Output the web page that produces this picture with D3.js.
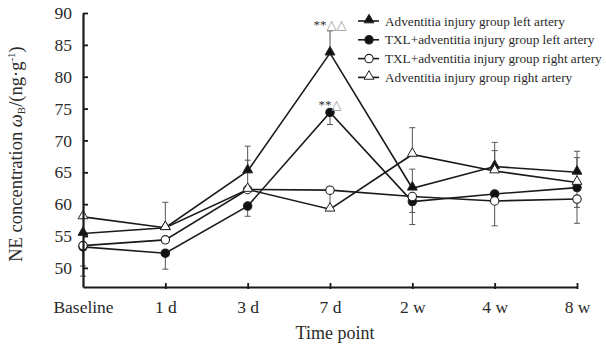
<!DOCTYPE html>
<html>
<head>
<meta charset="utf-8">
<script src="https://cdn.jsdelivr.net/npm/d3@7"></script>
<style>
  body { margin: 0; background: #fff; }
  svg text { font-family: "Liberation Serif", "DejaVu Serif", serif; fill: #2a2a2a; }
</style>
</head>
<body>
<svg id="chart" width="606" height="345"></svg>
<script>
// time points on the x axis
const timePoints = ["Baseline", "1 d", "3 d", "7 d", "2 w", "4 w", "8 w"];
const yTicks = [50, 55, 60, 65, 70, 75, 80, 85, 90];

// NE concentration, ng/g
const advLeft  = [55.4, 56.3, 65.2, 83.7, 62.5, 65.9, 65.0];
const txlLeft  = [53.3, 52.3, 59.7, 74.4, 60.4, 61.6, 62.6];
const txlRight = [53.5, 54.4, 62.3, 62.2, 61.2, 60.5, 60.8];
const advRight = [58.0, 56.3, 62.3, 59.2, 67.8, 65.2, 63.4];

// error bars (SD), drawn one side only
const advLeftErr  = [null, null, 3.9, 3.5, 3.0, 3.8, 3.3];   // up
const advRightErr = [null, 4.0, 4.6, 3.1, 4.2, 3.2, 3.9];    // up
const txlLeftErr  = [3.0, 2.5, 1.6, 1.9, 1.7, null, 3.1];    // down
const txlRightErr = [4.8, null, null, null, 4.4, 3.9, 3.8];  // down

const seriesNames = [
  "Adventitia injury group left artery",
  "TXL+adventitia injury group left artery",
  "TXL+adventitia injury group right artery",
  "Adventitia injury group right artery"
];

const series = [
  {name: seriesNames[0], values: advLeft,  err: advLeftErr,  dir: 1,  shape: "tri",    fill: "#111"},
  {name: seriesNames[1], values: txlLeft,  err: txlLeftErr,  dir: -1, shape: "circle", fill: "#111"},
  {name: seriesNames[2], values: txlRight, err: txlRightErr, dir: -1, shape: "circle", fill: "#fff"},
  {name: seriesNames[3], values: advRight, err: advRightErr, dir: 1,  shape: "tri",    fill: "#fff"}
];

var svg = d3.select("#chart");

var x = d3.scalePoint()
  .domain(timePoints)
  .range([83, 577])
  .padding(0);

var y = d3.scaleLinear()
  .domain([47, 90])
  .range([287, 13]);

// error bars first so markers sit on top
series.forEach(function(s) {
  var g = svg.append("g").attr("stroke", "#555").attr("stroke-width", 1);
  s.values.forEach(function(v, i) {
    if (s.err[i] == null) return;
    var x0 = x(timePoints[i]);
    var end = v + s.dir * s.err[i];
    g.append("line")
      .attr("x1", x0).attr("x2", x0)
      .attr("y1", y(v)).attr("y2", y(end));
    g.append("line")
      .attr("x1", x0 - 3).attr("x2", x0 + 3)
      .attr("y1", y(end)).attr("y2", y(end));
  });
});

var line = d3.line()
  .x(function(d, i) { return x(timePoints[i]); })
  .y(function(d) { return y(d); });

series.forEach(function(s) {
  svg.append("path")
    .datum(s.values)
    .attr("fill", "none")
    .attr("stroke", "#1a1a1a")
    .attr("stroke-width", 1.6)
    .attr("d", line);
});

function drawMarker(g, shape, fill, cx, cy) {
  if (shape == "tri") {
    g.append("path")
      .attr("d", d3.symbol().type(d3.symbolTriangle).size(42)())
      .attr("transform", "translate(" + cx + "," + (cy - 1) + ")")
      .attr("fill", fill)
      .attr("stroke", "#222")
      .attr("stroke-width", 1);
  } else {
    g.append("circle")
      .attr("cx", cx).attr("cy", cy).attr("r", 4.2)
      .attr("fill", fill)
      .attr("stroke", "#222")
      .attr("stroke-width", 1.1);
  }
}

series.forEach(function(s) {
  var g = svg.append("g");
  s.values.forEach(function(v, i) {
    drawMarker(g, s.shape, s.fill, x(timePoints[i]), y(v));
  });
});

// axes
var yAxis = svg.append("g")
  .attr("transform", "translate(83,0)")
  .call(d3.axisLeft(y).tickValues(yTicks).tickSizeInner(-5).tickSizeOuter(0).tickPadding(11));

var xAxis = svg.append("g")
  .attr("transform", "translate(0,287)")
  .call(d3.axisBottom(x).tickSizeInner(0).tickSizeOuter(0).tickPadding(14));

[yAxis, xAxis].forEach(function(ax) {
  ax.select(".domain").attr("stroke", "#1a1a1a").attr("stroke-width", 2.2);
  ax.selectAll(".tick line").attr("stroke", "#1a1a1a").attr("stroke-width", 1.8);
  ax.selectAll("text").attr("font-size", 17.5).attr("font-family", "Liberation Serif").attr("fill", "#2a2a2a");
});

// x ticks cross the axis a little
xAxis.selectAll(".tick").filter(function(d) { return d != "Baseline"; })
  .append("line")
  .attr("y1", -4).attr("y2", 2)
  .attr("stroke", "#1a1a1a").attr("stroke-width", 1.8);

// axis titles
svg.append("text")
  .attr("x", 335).attr("y", 339)
  .attr("text-anchor", "middle")
  .attr("font-size", 18)
  .text("Time point");

var yt = svg.append("text")
  .attr("transform", "translate(22,154) rotate(-90)")
  .attr("text-anchor", "middle")
  .attr("font-size", 18.5);
yt.append("tspan").text("NE concentration ");
yt.append("tspan").attr("font-style", "italic").text("ω");
yt.append("tspan").attr("font-size", 11).attr("dy", 3).text("B");
yt.append("tspan").attr("dy", -3).text("/(ng·g");
yt.append("tspan").attr("font-size", 11).attr("dy", -7).text("-1");
yt.append("tspan").attr("dy", 7).text(")");

// significance marks at 7 d
function sigMark(str, tri, yPos) {
  var t = svg.append("text")
    .attr("x", x("7 d")).attr("y", yPos)
    .attr("text-anchor", "middle")
    .attr("font-size", 13);
  t.append("tspan").style("fill", "#333").text(str);
  t.append("tspan").style("fill", "#999").text(tri);
}
sigMark("**", "△△", 29);
sigMark("**", "△", 109);

// legend
var legend = svg.append("g").attr("transform", "translate(358,0)");
var legendTexts = [];
series.forEach(function(s, i) {
  var ly = 21 + i * 18.8;
  legend.append("line")
    .attr("x1", 0).attr("x2", 21)
    .attr("y1", ly).attr("y2", ly)
    .attr("stroke", "#1a1a1a").attr("stroke-width", 1.6);
  drawMarker(legend, s.shape, s.fill, 11, ly);
  legendTexts.push(legend.append("text")
    .attr("x", 27).attr("y", ly + 4.5)
    .attr("font-size", 14)
    .text(s.name));
});
// keep the longest entry inside the frame
var widest = d3.max(legendTexts, function(t) { return t.node().getComputedTextLength(); });
var fs = Math.min(14.5, 14 * 217 / widest);
legendTexts.forEach(function(t) { t.attr("font-size", fs); });
</script>
</body>
</html>
